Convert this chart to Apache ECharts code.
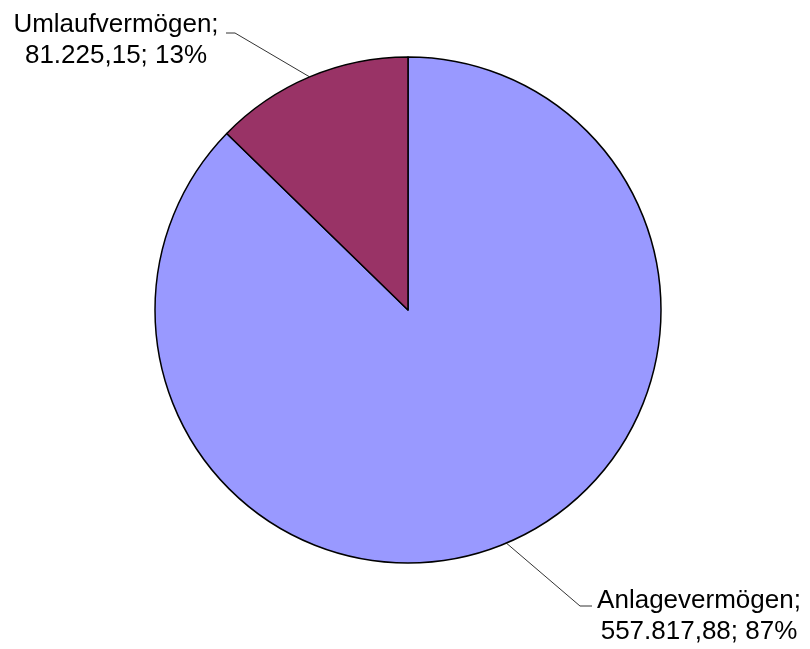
<!DOCTYPE html>
<html><head><meta charset="utf-8">
<script src="https://cdn.jsdelivr.net/npm/echarts@6/dist/echarts.min.js"></script>
<style>html,body{margin:0;padding:0;background:#fff}#c{width:810px;height:649px}</style>
</head><body><div id="c"></div>
<script>
const categories = ['Anlagevermögen', 'Umlaufvermögen'];
const values = [557817.88, 81225.15];
const colors = ['#9999FF', '#993366'];

function fmtDE(v) {
  const parts = v.toFixed(2).split('.');
  const intPart = parts[0].replace(/\B(?=(\d{3})+(?!\d))/g, '.');
  return intPart + ',' + parts[1];
}

const chart = echarts.init(document.getElementById('c'), null, {renderer: 'canvas'});
chart.setOption({
  animation: false,
  backgroundColor: '#fff',
  series: [{
    type: 'pie',
    center: [408, 310],
    radius: 253,
    startAngle: 90,
    clockwise: true,
    data: categories.map((n, i) => ({name: n, value: values[i], itemStyle: {color: colors[i]}})),
    itemStyle: {borderColor: '#000', borderWidth: 1.5},
    emphasis: {disabled: true},
    label: {
      show: true,
      position: 'outside',
      fontFamily: 'Liberation Sans, Arial, sans-serif',
      fontSize: 26,
      lineHeight: 31,
      color: '#000',
      align: 'center',
      formatter: p => p.name + ';\n' + fmtDE(p.value) + '; ' + Math.round(p.percent) + '%'
    },
    labelLine: {show: true, length: 20, length2: 10, lineStyle: {color: '#333', width: 1}},
    labelLayout: function (params) {
      const p0 = params.labelLinePoints ? params.labelLinePoints[0] : null;
      if (params.dataIndex === 1) {
        return {
          x: 116, y: 40, align: 'center', verticalAlign: 'middle',
          labelLinePoints: p0 ? [p0, [235, 33], [226, 33]] : undefined
        };
      } else {
        return {
          x: 699, y: 616, align: 'center', verticalAlign: 'middle',
          labelLinePoints: p0 ? [p0, [580, 606], [592, 606]] : undefined
        };
      }
    }
  }]
});
</script></body></html>
